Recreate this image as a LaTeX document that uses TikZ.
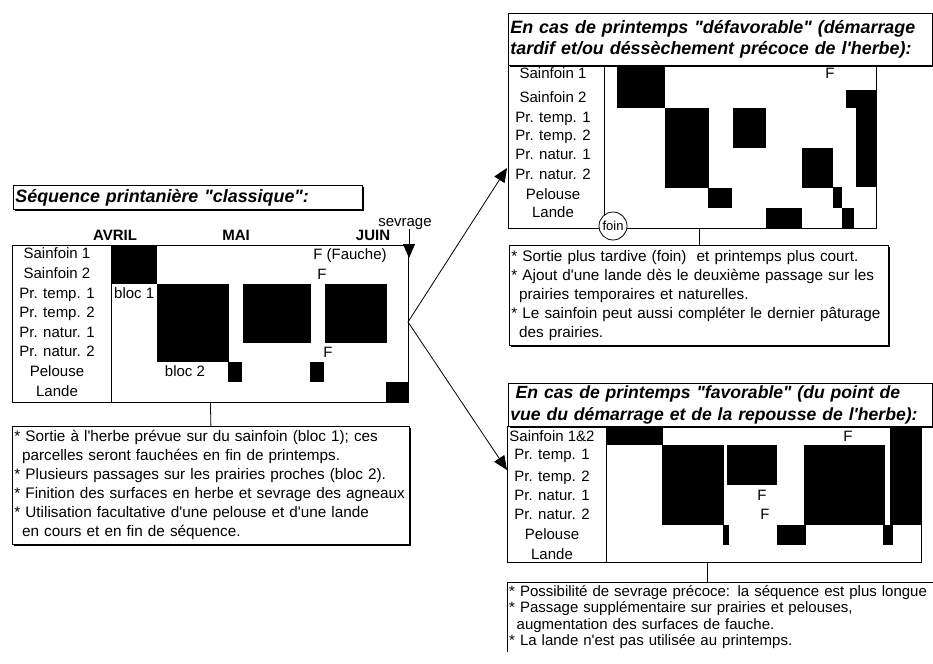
\documentclass[tikz,border=0pt]{standalone}
\usepackage{fontspec}
\setmainfont{Liberation Sans}[Ligatures=TeXOff]
\usetikzlibrary{arrows.meta,shadows}

\begin{document}
\begin{tikzpicture}[x=1pt,y=-1pt,
  frame/.style={draw,line width=0.8pt,inner sep=0pt},
  shadowed/.style={draw,fill=white,line width=0.8pt,drop shadow={shadow xshift=1.6pt,shadow yshift=-1.6pt,fill=black,opacity=1}},
  titlebox/.style={shadowed,anchor=north west,align=left,inner xsep=2pt,inner ysep=0pt,font=\fontsize{17.9}{21}\selectfont\bfseries\itshape},
  notebox/.style={shadowed,anchor=north west,align=left,inner xsep=2pt,inner ysep=0pt,font=\fontsize{15.3}{19}\selectfont},
  rowlab/.style={inner sep=0pt,text height=11pt,text depth=3pt,font=\fontsize{15}{18}\selectfont},
  month/.style={rowlab,font=\fontsize{15}{18}\selectfont\bfseries},
  tip/.style={-{Triangle[length=14pt,width=12pt]},line width=0.8pt}]
\useasboundingbox (0,0) rectangle (933,663);

% sequence classique
\foreach \xa/\ya/\xb/\yb in {111/245/157/284,157/284/229/362,243/284/311/343,325/284/387/343,228/362/242/382,310/362/324/382,386/382/408/402}
  \fill (\xa,\ya) rectangle (\xb,\yb);
\node[frame,minimum width=396pt,minimum height=157pt,anchor=north west] (clsChart) at (12,245) {};
\node[frame,minimum width=99pt,minimum height=157pt,anchor=north west] (clsLab) at (12,245) {};
\foreach \lab [count=\i] in {Sainfoin 1,Sainfoin 2,Pr. temp. 1,Pr. temp. 2,Pr. natur. 1,Pr. natur. 2,Pelouse,Lande}
  \node[rowlab] (clsRow\i) at (57,{235.2+19.6*\i}) {\lab};
\node[month] (avril) at (115,236) {AVRIL};
\node[month] (mai) at (236,236) {MAI};
\node[month] (juin) at (373,236) {JUIN};
\node[rowlab,anchor=west] (bloc1) at (114,294) {bloc 1};
\node[rowlab] (bloc2) at (185,372) {bloc 2};
\node[rowlab] (fauche) at (350,255) {F (Fauche)};
\node[rowlab] (clsF2) at (322,275) {F};
\node[rowlab] (clsF6) at (328,353) {F};
\node[rowlab] (sevrage) at (405,222) {sevrage};
\coordinate (sevTip) at (409,258);
\draw[tip] (sevTip |- sevrage.south) -- (sevTip);
\node[titlebox,text width=345pt,minimum height=24pt] (clsTitle) at (13,185) {Séquence printanière "classique":};
\node[notebox,text width=393pt,minimum height=118pt] (clsNote) at (12,426)
  {{*} Sortie à l'herbe prévue sur du sainfoin (bloc 1); ces\\
   \hspace*{0.5em}parcelles seront fauchées en fin de printemps.\\
   {*} Plusieurs passages sur les prairies proches (bloc 2).\\
   {*} Finition des surfaces en herbe et sevrage des agneaux\\
   {*} Utilisation facultative d'une pelouse et d'une lande\\
   \hspace*{0.5em}en cours et en fin de séquence.};
\draw[line width=0.8pt] (clsChart.south) -- (clsNote.north);

% fleches vers les variantes
\coordinate (hub) at (408,322);
\coordinate (defTip) at (507,168);
\coordinate (favTip) at (507,470);
\draw[tip] (hub) -- (defTip);
\draw[tip] (hub) -- (favTip);

% printemps defavorable
\foreach \xa/\ya/\xb/\yb in {617/65/665/108,665/108/709/188,733/108/766/148,802/148/833/188,846/90/876/108,856/108/876/187,708/188/732/208,766/208/802/228,833/187/842/208,842/208/854/228}
  \fill (\xa,\ya) rectangle (\xb,\yb);
\node[frame,minimum width=368pt,minimum height=163pt,anchor=north west] (defChart) at (508,65) {};
\node[frame,minimum width=96pt,minimum height=163pt,anchor=north west] (defLab) at (508,65) {};
\foreach \lab/\yy [count=\i] in {Sainfoin 1/75,Sainfoin 2/99,Pr. temp. 1/119,Pr. temp. 2/137,Pr. natur. 1/156,Pr. natur. 2/175,Pelouse/195,Lande/213}
  \node[rowlab] (defRow\i) at (553,\yy) {\lab};
\node[rowlab] (defF) at (830,75) {F};
\node[draw,circle,fill=white,line width=0.8pt,inner sep=0.5pt,minimum size=28pt,font=\fontsize{13}{15}\selectfont] (foin) at (613,226) {foin};
\node[titlebox,text width=420pt,minimum height=52pt] (defTitle) at (508,13)
  {En cas de printemps "défavorable" (démarrage\\tardif et/ou déssèchement précoce de l'herbe):};
\node[notebox,text width=375pt,minimum height=100pt] (defNote) at (509,245)
  {{*} Sortie plus tardive (foin)\ \ et printemps plus court.\\
   {*} Ajout d'une lande dès le deuxième passage sur les\\
   \hspace*{0.5em}prairies temporaires et naturelles.\\
   {*} Le sainfoin peut aussi compléter le dernier pâturage\\
   \hspace*{0.5em}des prairies.};
\draw[line width=0.8pt] (defNote.north) -- (defNote.north |- defChart.south);

% printemps favorable
\foreach \xa/\ya/\xb/\yb in {606/426/663/445,890/426/921/525,662/445/724/525,727/445/777/485,804/445/885/525,723/525/729/545,777/525/806/545,883/525/893/545}
  \fill (\xa,\ya) rectangle (\xb,\yb);
\node[frame,minimum width=414pt,minimum height=136pt,anchor=north west] (favChart) at (507,426) {};
\node[frame,minimum width=99pt,minimum height=136pt,anchor=north west] (favLab) at (507,426) {};
\foreach \lab/\yy [count=\i] in {Sainfoin 1\&2/437,Pr. temp. 1/455,Pr. temp. 2/477,Pr. natur. 1/496,Pr. natur. 2/515,Pelouse/535,Lande/555}
  \node[rowlab] (favRow\i) at (552,\yy) {\lab};
\node[rowlab] (favF1) at (848,437) {F};
\node[rowlab] (favF4) at (762,496) {F};
\node[rowlab] (favF5) at (765,515) {F};
\node[titlebox,text width=420pt,minimum height=43pt,font=\fontsize{17.6}{22}\selectfont\bfseries\itshape] (favTitle) at (508,383)
  {\hspace*{0.3em}En cas de printemps "favorable" (du point de\\vue du démarrage et de la repousse de l'herbe):};
\node[anchor=north west,align=left,text width=430pt,inner xsep=2pt,inner ysep=3pt,font=\fontsize{15}{16.5}\selectfont] (favNote) at (507,582)
  {{*} Possibilité de sevrage précoce: la séquence est plus longue\\
   {*} Passage supplémentaire sur prairies et pelouses,\\
   \hspace*{0.5em}augmentation des surfaces de fauche.\\
   {*} La lande n'est pas utilisée au printemps.};
\draw[line width=0.8pt] (favNote.south west) -- (favNote.north west) -- (favNote.north east);
\draw[line width=0.8pt] (favNote.north west) ++(200,0) coordinate (favLink) -- (favLink |- favChart.south);
\end{tikzpicture}
\end{document}
